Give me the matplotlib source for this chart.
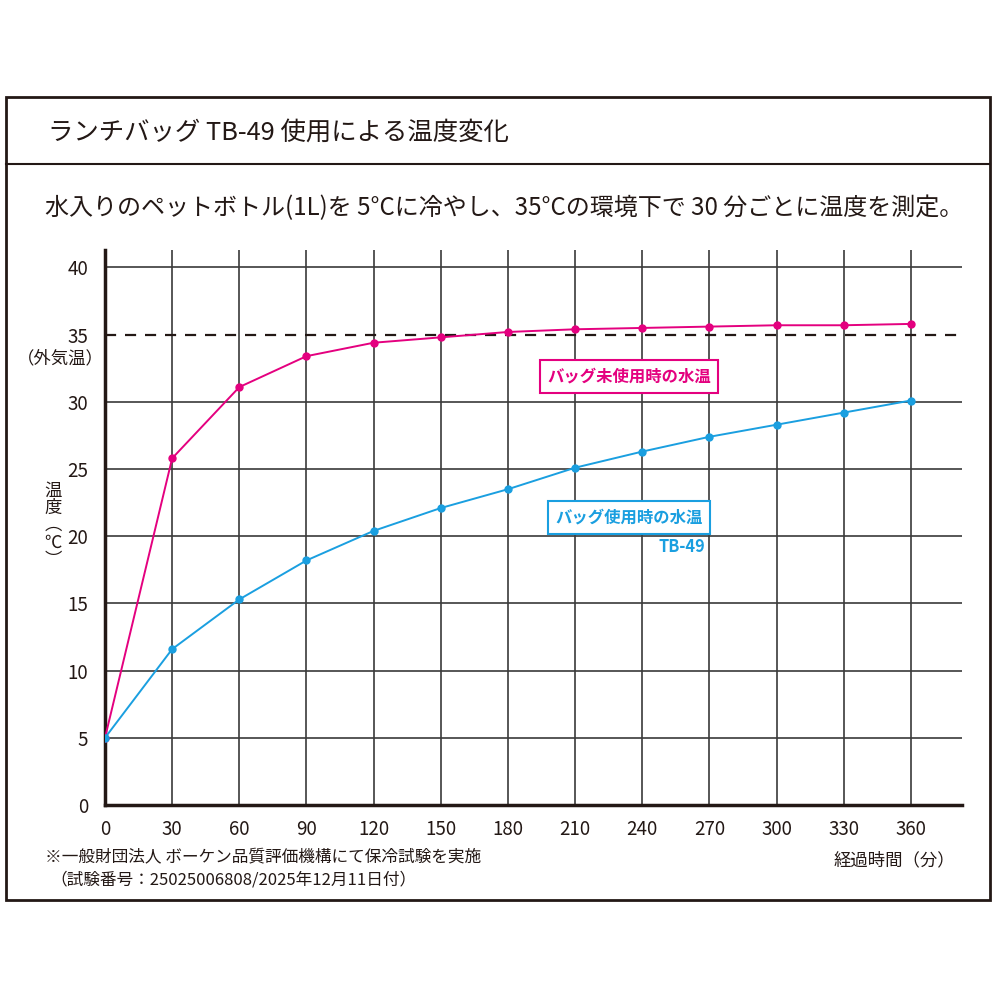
import matplotlib
matplotlib.use("Agg")
import matplotlib.pyplot as plt
from matplotlib.patches import Rectangle
from matplotlib.lines import Line2D

plt.rcParams['font.family'] = ['Noto Sans CJK JP', 'DejaVu Sans']

# data
minutes = [0, 30, 60, 90, 120, 150, 180, 210, 240, 270, 300, 330, 360]
temp_no_bag = [5, 25.8, 31.1, 33.4, 34.4, 34.8, 35.2, 35.4, 35.5, 35.6, 35.7, 35.7, 35.8]
temp_bag = [5, 11.6, 15.3, 18.2, 20.4, 22.1, 23.5, 25.1, 26.3, 27.4, 28.3, 29.2, 30.1]
y_ticks = [0, 5, 10, 15, 20, 25, 30, 35, 40]
outside_temp = 35

title = 'ランチバッグ TB-49 使用による温度変化'
subtitle = '水入りのペットボトル(1L)を 5°Cに冷やし、35°Cの環境下で 30 分ごとに温度を測定。'
label_no_bag = 'バッグ未使用時の水温'
label_bag = 'バッグ使用時の水温'
note1 = '※一般財団法人 ボーケン品質評価機構にて保冷試験を実施'
note2 = '（試験番号：25025006808/2025年12月11日付）'

PINK = '#e4007f'
BLUE = '#1a9fe0'
INK = '#231815'
GRID = '#3a3a3a'

fig = plt.figure(figsize=(10, 10), dpi=100)

# outer frame and header separator
fig.patches.append(Rectangle((0.006, 0.100), 0.984, 0.803, transform=fig.transFigure,
                             fill=False, edgecolor=INK, lw=2))
fig.lines.append(Line2D([0.006, 0.990], [0.836, 0.836], transform=fig.transFigure,
                        color=INK, lw=1.5))

fig.text(0.048, 0.867, title, fontsize=18.3, color=INK, va='center', ha='left')
fig.text(0.045, 0.792, subtitle, fontsize=17.3, color=INK, va='center', ha='left')

ax = fig.add_axes([0.105, 0.195, 0.857, 0.555])
ax.set_xlim(0, 382.8)
ax.set_ylim(0, 41.3)

for m in minutes[1:]:
    ax.axvline(m, color=GRID, lw=1.2, zorder=1)
for t in y_ticks[1:]:
    if t != outside_temp:
        ax.axhline(t, color=GRID, lw=1.2, zorder=1)
ax.axhline(outside_temp, color=INK, lw=1.6, ls=(0, (5, 4)), zorder=2)

ax.plot(minutes, temp_no_bag, color=PINK, lw=1.4, marker='o', ms=5, zorder=3)
ax.plot(minutes, temp_bag, color=BLUE, lw=1.4, marker='o', ms=5, zorder=3)

for side in ['top', 'right']:
    ax.spines[side].set_visible(False)
for side in ['left', 'bottom']:
    ax.spines[side].set_linewidth(2.5)
    ax.spines[side].set_color(INK)

ax.set_xticks(minutes)
ax.set_yticks(y_ticks)
ax.tick_params(length=0, labelsize=13.5, colors=INK, pad=10)
ax.tick_params(axis='y', pad=12)

# legend-like boxed labels
ax.text(234, 31.9, label_no_bag, fontsize=11.8, color=PINK, ha='center', va='center',
        fontweight='bold',
        bbox=dict(boxstyle='square,pad=0.45', fc='white', ec=PINK, lw=1.5), zorder=5)
ax.text(234, 21.4, label_bag, fontsize=11.8, color=BLUE, ha='center', va='center',
        fontweight='bold',
        bbox=dict(boxstyle='square,pad=0.45', fc='white', ec=BLUE, lw=1.5), zorder=5)
ax.text(268, 19.2, 'TB-49', fontsize=11.8, color=BLUE, ha='right', va='center',
        fontweight='bold', zorder=5)

# axis annotations
fig.text(0.060, 0.642, '（外気温）', fontsize=12.5, color=INK, ha='center', va='center')
fig.text(0.053, 0.475, '温\n度\n︵\n℃\n︶', fontsize=12.5, color=INK, ha='center', va='center',
         linespacing=0.95)
fig.text(0.955, 0.140, '経過時間（分）', fontsize=12.5, color=INK, ha='right', va='center')

fig.text(0.045, 0.142, note1, fontsize=12, color=INK, ha='left', va='center')
fig.text(0.050, 0.120, note2, fontsize=12, color=INK, ha='left', va='center')

fig.savefig('out.png', dpi=100, facecolor='white')
